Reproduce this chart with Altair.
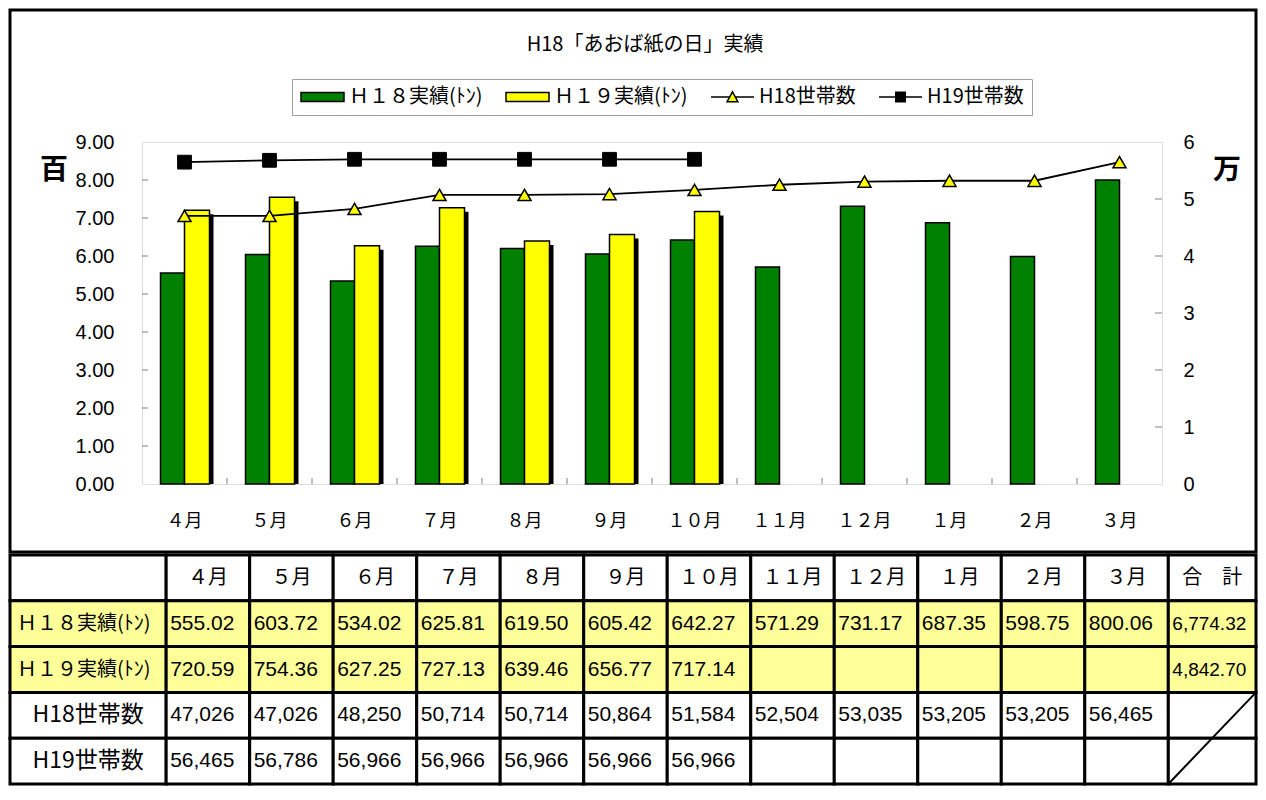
import altair as alt
import pandas as pd

# ---------------- data ----------------
MONTHS = ["４月", "５月", "６月", "７月", "８月", "９月", "１０月", "１１月", "１２月", "１月", "２月", "３月"]
H18_TONS = [555.02, 603.72, 534.02, 625.81, 619.50, 605.42, 642.27, 571.29, 731.17, 687.35, 598.75, 800.06]
H19_TONS = [720.59, 754.36, 627.25, 727.13, 639.46, 656.77, 717.14]
H18_HOUSEHOLDS = [47026, 47026, 48250, 50714, 50714, 50864, 51584, 52504, 53035, 53205, 53205, 56465]
H19_HOUSEHOLDS = [56465, 56786, 56966, 56966, 56966, 56966, 56966]
TOTALS = [6774.32, 4842.70]
SERIES = ["Ｈ１８実績(ﾄﾝ)", "Ｈ１９実績(ﾄﾝ)", "H18世帯数", "H19世帯数"]
ROW_LABELS = ["", "Ｈ１８実績(ﾄﾝ)", "Ｈ１９実績(ﾄﾝ)", "H18世帯数", "H19世帯数"]
TOTAL_HEADER = "合　計"
TITLE = "H18「あおば紙の日」実績"
LEFT_UNIT = "百"
RIGHT_UNIT = "万"
LEFT_TICKS = list(range(10))
RIGHT_TICKS = list(range(7))

JP = "Noto Sans CJK JP"
LAT = "Liberation Sans"
W, H = 1020, 342

# ---------------- chart part ----------------
df18 = pd.DataFrame({"month": MONTHS, "v": [t / 100 for t in H18_TONS]})
df19 = pd.DataFrame({"month": MONTHS[:len(H19_TONS)], "v": [t / 100 for t in H19_TONS]})
hh18 = pd.DataFrame({"month": MONTHS, "v": [h / 10000 for h in H18_HOUSEHOLDS]})
hh19 = pd.DataFrame({"month": MONTHS[:len(H19_HOUSEHOLDS)], "v": [h / 10000 for h in H19_HOUSEHOLDS]})

x_scale = alt.Scale(type="band", domain=MONTHS, paddingInner=0, paddingOuter=0)
x_axis = alt.Axis(title=None, orient="bottom", labelFont=JP, labelFontSize=18, labelColor="black",
                  labelPadding=28, labelAngle=0, ticks=False, domain=False, grid=False)


def X(**kw):
    return alt.X("month:N", scale=x_scale, axis=x_axis, **kw)


yl_scale = alt.Scale(domain=[0, 9], nice=False, zero=True)
yl_axis = alt.Axis(title=None, orient="left", values=LEFT_TICKS, format=".2f", labelFont=LAT,
                   labelFontSize=20, labelColor="black", labelPadding=28, ticks=False, domain=False, grid=False)
yr_scale = alt.Scale(domain=[0, 6], nice=False, zero=True)
yr_axis = alt.Axis(title=None, orient="right", values=RIGHT_TICKS, format="d", labelFont=LAT,
                   labelFontSize=20, labelColor="black", labelPadding=21, ticks=False, domain=False, grid=False)


def YL():
    return alt.Y("v:Q", scale=yl_scale, axis=yl_axis)


def YR():
    return alt.Y("v:Q", scale=yr_scale, axis=yr_axis)


lticks = alt.Chart(pd.DataFrame({"v": LEFT_TICKS[1:-1]})).mark_rule(color="#808080", strokeWidth=1).encode(
    y=YL(), x=alt.value(0), x2=alt.value(6))
xticks = alt.Chart(pd.DataFrame({"month": MONTHS[1:]})).mark_rule(color="#808080", strokeWidth=1).encode(
    x=X(bandPosition=0), y=alt.value(H), y2=alt.value(H - 6))
green = alt.Chart(df18).mark_bar(fill="#008000", stroke="black", strokeWidth=1.5, width=24, xOffset=-12).encode(
    x=X(), y=YL())
shadow = alt.Chart(df19).mark_bar(fill="black", width=25, xOffset=16.5, yOffset=4, clip=True).encode(
    x=X(), y=YL())
yellow = alt.Chart(df19).mark_bar(fill="#FFFF00", stroke="black", strokeWidth=1.5, width=25, xOffset=12.5).encode(
    x=X(), y=YL())
bars_group = alt.layer(lticks, xticks, shadow, green, yellow)

rticks = alt.Chart(pd.DataFrame({"v": RIGHT_TICKS[1:-1]})).mark_rule(color="#808080", strokeWidth=1).encode(
    y=YR(), x=alt.value(W - 7), x2=alt.value(W))
l18 = alt.Chart(hh18).mark_line(color="black", strokeWidth=1.8).encode(x=X(bandPosition=0.5), y=YR())
l19 = alt.Chart(hh19).mark_line(color="black", strokeWidth=1.8).encode(x=X(bandPosition=0.5), y=YR())
p18 = alt.Chart(hh18).mark_point(shape="triangle-up", filled=True, fill="#FFFF00", stroke="black",
                                 strokeWidth=1.5, size=170, opacity=1).encode(x=X(bandPosition=0.5), y=YR())
p19 = alt.Chart(hh19).mark_point(shape="square", filled=True, fill="black", stroke="black",
                                 strokeWidth=1, size=190, opacity=1).encode(x=X(bandPosition=0.5), y=YR())
lines_group = alt.layer(rticks, l18, l19, p18, p19)

chart_group = alt.layer(bars_group, lines_group).resolve_scale(y="independent")

# ---------------- table part ----------------
col_w = [1.87] + [1.0] * len(MONTHS) + [1.05]
edges = [-1.87]
for w in col_w:
    edges.append(edges[-1] + w)

rows = [
    [ROW_LABELS[0]] + MONTHS + [TOTAL_HEADER],
    [ROW_LABELS[1]] + [f"{v:,.2f}" for v in H18_TONS] + [f"{TOTALS[0]:,.2f}"],
    [ROW_LABELS[2]] + [f"{v:,.2f}" for v in H19_TONS] + [""] * (len(MONTHS) - len(H19_TONS)) + [f"{TOTALS[1]:,.2f}"],
    [ROW_LABELS[3]] + [f"{v:,}" for v in H18_HOUSEHOLDS] + [""],
    [ROW_LABELS[4]] + [f"{v:,}" for v in H19_HOUSEHOLDS] + [""] * (len(MONTHS) - len(H19_HOUSEHOLDS)) + [""],
]
recs = []
ncol = len(rows[0])
for r, row in enumerate(rows):
    for c, txt in enumerate(row):
        if r == 0:
            kind = "hdr"
        elif c == 0:
            kind = "labL" if r in (1, 2) else "labC"
        elif c == ncol - 1:
            kind = "tot"
        else:
            kind = "num"
        recs.append({"x0": edges[c], "x1": edges[c + 1], "xm": (edges[c] + edges[c + 1]) / 2,
                     "y0": r, "y1": r + 1, "ym": r + 0.5, "text": txt, "kind": kind,
                     "bg": "#FFFF99" if r in (1, 2) else "white"})
cells_df = pd.DataFrame(recs)

tx_scale = alt.Scale(domain=[edges[0], edges[-1]], range=[-132, 1114], nice=False, zero=False)
ty_scale = alt.Scale(domain=[0, 5], range=[413, 642], nice=False, zero=False)

frame = alt.Chart(pd.DataFrame({"a": [0]})).mark_rect(filled=False, stroke="black", strokeWidth=3).encode(
    x=alt.value(-132), x2=alt.value(1114), y=alt.value(-132), y2=alt.value(410))

cells = alt.Chart(cells_df).mark_rect(stroke="black", strokeWidth=3).encode(
    x=alt.X("x0:Q", scale=tx_scale, axis=None), x2="x1:Q",
    y=alt.Y("y0:Q", scale=ty_scale, axis=None), y2="y1:Q",
    fill=alt.Fill("bg:N", scale=None))


def tlayer(kind, xfield, align, font, size, dx):
    return alt.Chart(cells_df).transform_filter(alt.datum.kind == kind).mark_text(
        align=align, baseline="middle", font=font, fontSize=size, dx=dx, color="black").encode(
        x=alt.X(f"{xfield}:Q", scale=tx_scale, axis=None),
        y=alt.Y("ym:Q", scale=ty_scale, axis=None),
        text="text:N")


t_hdr = tlayer("hdr", "xm", "center", JP, 20, 0)
t_labL = tlayer("labL", "x0", "left", JP, 20, 7)
t_labC = tlayer("labC", "xm", "center", JP, 23, 0)
t_num = tlayer("num", "x0", "left", LAT, 21, 4)
t_tot = tlayer("tot", "x0", "left", LAT, 19, 4)

diag_df = pd.DataFrame({"x0": [edges[-2]], "x1": [edges[-1]], "y0": [5], "y1": [3]})
diag = alt.Chart(diag_df).mark_rule(color="black", strokeWidth=2).encode(
    x=alt.X("x0:Q", scale=tx_scale, axis=None), x2="x1:Q",
    y=alt.Y("y0:Q", scale=ty_scale, axis=None), y2="y1:Q")

one = pd.DataFrame({"a": [0]})
title = alt.Chart(one).mark_text(font=JP, fontSize=20, align="center", baseline="middle", color="black").encode(
    x=alt.value(503), y=alt.value(-97), text=alt.value(TITLE))
lunit = alt.Chart(one).mark_text(font=JP, fontSize=28, fontWeight="bold", align="center", baseline="middle",
                                 color="black").encode(x=alt.value(-88), y=alt.value(29), text=alt.value(LEFT_UNIT))
runit = alt.Chart(one).mark_text(font=JP, fontSize=28, fontWeight="bold", align="center", baseline="middle",
                                 color="black").encode(x=alt.value(1085), y=alt.value(29), text=alt.value(RIGHT_UNIT))

table_group = alt.layer(frame, cells, t_hdr, t_labL, t_labC, t_num, t_tot, diag, title, lunit, runit)

# ---------------- legend ----------------
RECT = "M-1,-0.21H1V0.21H-1Z"
TRI = "M-1,0H-0.13M0.13,0H1M-0.25,0.22L0,-0.24L0.25,0.22Z"
SQ = "M-1,0H-0.22M0.22,0H1M-0.22,-0.22H0.22V0.22H-0.22Z"
LEG = alt.Legend(title=None, orient="none", legendX=150, legendY=-63, direction="horizontal", columns=4,
                 symbolSize=1849, symbolStrokeColor="black", symbolStrokeWidth=1.5, symbolOpacity=1,
                 clipHeight=20, labelFont=JP, labelFontSize=20, labelColor="black", labelOffset=4,
                 labelLimit=300, columnPadding=22, padding=8, fillColor="white", strokeColor="#A0A0A0")
leg = alt.Chart(pd.DataFrame({"series": SERIES})).mark_point(filled=True, size=10, stroke="black", opacity=1).encode(
    x=alt.value(300), y=alt.value(-46),
    fill=alt.Fill("series:N", scale=alt.Scale(domain=SERIES, range=["#008000", "#FFFF00", "#FFFF00", "#000000"]),
                  legend=LEG),
    shape=alt.Shape("series:N", scale=alt.Scale(domain=SERIES, range=[RECT, RECT, TRI, SQ]), legend=LEG))

chart = alt.layer(table_group, chart_group, leg).resolve_scale(x="independent", y="independent").properties(
    width=W, height=H,
    padding={"left": 134, "top": 134, "right": 96, "bottom": 304},
    autosize=alt.AutoSizeParams(type="none"),
).configure_view(fill="#C0C0C0", stroke="#808080", strokeWidth=1.5).configure(background="white")

chart.save("out.html", embed_options={"renderer": "svg", "actions": False})
